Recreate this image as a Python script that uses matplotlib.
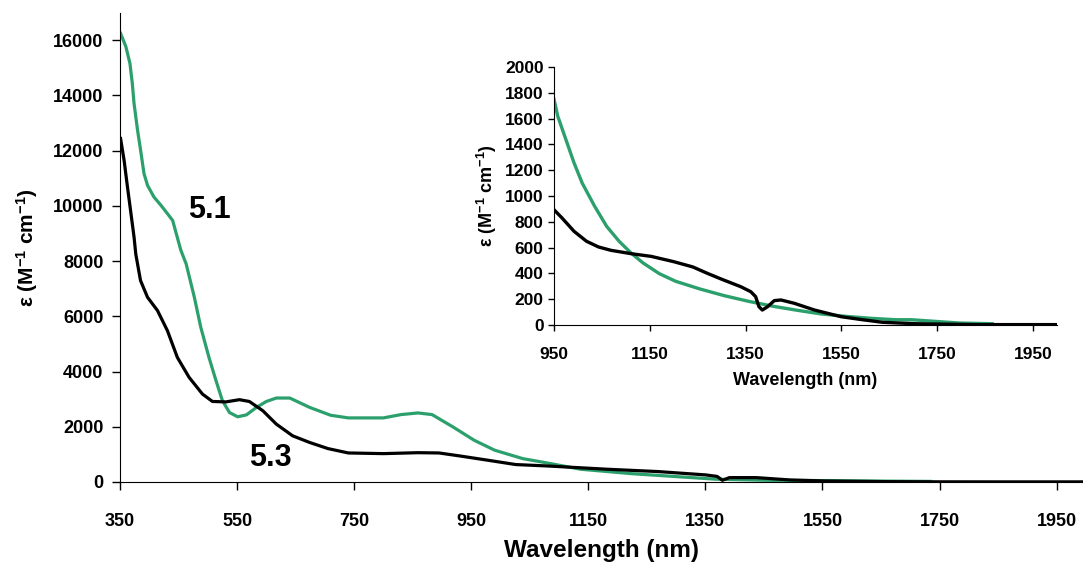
import matplotlib
matplotlib.use("Agg")
import matplotlib.pyplot as plt

plt.rcParams['font.family'] = ['Liberation Sans', 'DejaVu Sans']
plt.rcParams['font.weight'] = 'bold'
plt.rcParams['mathtext.fontset'] = 'custom'
plt.rcParams['mathtext.rm'] = 'Liberation Sans:bold'
plt.rcParams['mathtext.bf'] = 'Liberation Sans:bold'
plt.rcParams['mathtext.it'] = 'Liberation Sans:bold'

GREEN = '#2ca06c'

# main spectrum, compound 5.1 (green)
wl_51 = [351, 360, 367, 371, 374, 380, 386, 391, 397, 408, 420, 431, 440, 448, 454,
         463, 477, 488, 502, 514, 525, 537, 551, 566, 583, 600, 617, 640, 674, 710,
         740, 800, 830, 859, 883, 919, 955, 990, 1038, 1079, 1137, 1224, 1310, 1368,
         1455, 1542, 1600, 1660, 1735]
eps_51 = [16250, 15770, 15160, 14440, 13710, 12740, 11900, 11170, 10745, 10320, 10020, 9720, 9470, 8850, 8390,
          7900, 6690, 5600, 4510, 3670, 2940, 2515, 2360, 2430, 2700, 2915, 3040, 3040, 2700, 2415,
          2320, 2320, 2440, 2500, 2440, 1990, 1510, 1150, 845, 690, 460, 300, 180, 100,
          60, 50, 40, 30, 20]

# main spectrum, compound 5.3 (black)
wl_53 = [351, 357, 362, 368, 374, 377, 385, 397, 414, 431, 448, 468, 491, 508, 531,
         554, 571, 594, 617, 645, 674, 705, 740, 800, 859, 895, 931, 979, 1026, 1079,
         1183, 1270, 1351, 1370, 1379, 1391, 1437, 1495, 1553, 1657, 1750, 1850, 1995]
eps_53 = [12440, 11650, 10810, 9840, 8870, 8250, 7300, 6690, 6210, 5480, 4510, 3790, 3180, 2915, 2900,
          2980, 2915, 2580, 2095, 1670, 1430, 1210, 1050, 1026, 1060, 1050, 940, 785, 630, 580,
          460, 375, 254, 200, 60, 157, 157, 72, 36, 12, 5, 3, 3]

# inset (NIR region)
wl_in_51 = [950, 958, 975, 992, 1009, 1035, 1060, 1086, 1111, 1136, 1170, 1204, 1255, 1306, 1357,
            1408, 1458, 1509, 1560, 1611, 1662, 1696, 1747, 1797, 1865]
eps_in_51 = [1752, 1618, 1437, 1256, 1100, 920, 765, 649, 558, 481, 398, 339, 279, 227, 183,
             145, 114, 85, 67, 52, 41, 41, 28, 15, 10]
wl_in_53 = [950, 967, 992, 1018, 1043, 1069, 1111, 1153, 1200, 1240, 1270, 1300, 1340, 1361, 1371,
            1378, 1385, 1396, 1410, 1424, 1452, 1494, 1550, 1594, 1636, 1704, 1831, 2000]
eps_in_53 = [894, 829, 726, 649, 605, 579, 553, 532, 491, 450, 401, 355, 297, 258, 220,
             142, 116, 142, 189, 194, 168, 116, 64, 41, 21, 10, 3, 3]

main_xticks = list(range(350, 2000, 200))
main_yticks = list(range(0, 16001, 2000))
inset_xticks = list(range(950, 2000, 200))
inset_yticks = list(range(0, 2001, 200))

ylab = r'ε (M$^{-1}$ cm$^{-1}$)'

fig = plt.figure(figsize=(10.83, 5.67), dpi=100)
ax = fig.add_axes([0.1108, 0.150, 0.8892, 0.8277])
ax.plot(wl_51, eps_51, color=GREEN, lw=2.3)
ax.plot(wl_53, eps_53, color='black', lw=2.3)
ax.set_xlim(350, 1995)
ax.set_ylim(0, 17000)
ax.set_xticks(main_xticks)
ax.set_yticks(main_yticks)
ax.spines['top'].set_visible(False)
ax.spines['right'].set_visible(False)
ax.tick_params(direction='out', length=6, width=1, labelsize=13, pad=6)
ax.tick_params(axis='x', pad=16)
ax.set_xlabel('Wavelength (nm)', fontsize=17.5, fontweight='bold', labelpad=7)
ax.set_ylabel(ylab, fontsize=15, fontweight='bold', labelpad=9)
ax.text(503, 9850, '5.1', fontsize=22, fontweight='bold', ha='center', va='center')
ax.text(607, 850, '5.3', fontsize=22, fontweight='bold', ha='center', va='center')

ins = fig.add_axes([0.5115, 0.4268, 0.4644, 0.455])
ins.plot(wl_in_51, eps_in_51, color=GREEN, lw=2.4)
ins.plot(wl_in_53, eps_in_53, color='black', lw=2.4)
ins.set_xlim(950, 2000)
ins.set_ylim(0, 2000)
ins.set_xticks(inset_xticks)
ins.set_yticks(inset_yticks)
ins.spines['top'].set_visible(False)
ins.spines['right'].set_visible(False)
ins.tick_params(direction='out', length=4, width=1, labelsize=12.5)
ins.tick_params(axis='x', pad=12)
ins.set_xlabel('Wavelength (nm)', fontsize=13, fontweight='bold', labelpad=7)
ins.set_ylabel(ylab, fontsize=13, fontweight='bold', labelpad=4)

fig.savefig('out.png', dpi=100)
